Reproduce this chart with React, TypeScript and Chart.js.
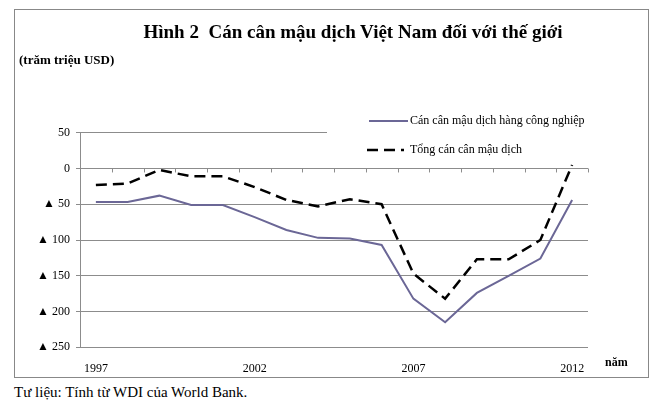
import { useEffect, useRef } from 'react'
import Chart from 'chart.js/auto'

const years = ['1997', '1998', '1999', '2000', '2001', '2002', '2003', '2004', '2005', '2006', '2007', '2008', '2009', '2010', '2011', '2012']
const industrialBalance = [-47, -47, -38, -51, -51, -68, -86, -97, -98, -107, -182, -215, -174, -150, -126, -44]
const totalBalance = [-23, -21, -2, -11, -11, -26, -44, -53, -43, -50, -147, -182, -127, -127, -100, 5]
const yTicks = [50, 0, -50, -100, -150, -200, -250]
const labelYears = ['1997', '2002', '2007', '2012']
const legendLabels = ['Cán cân mậu dịch hàng công nghiệp', 'Tổng cán cân mậu dịch']

const SERIF = '"Liberation Serif", "Times New Roman", serif'
const SOLID_COLOR = '#6b6796'
const GRID_COLOR = '#8c8c8c'

// small tick marks hanging below the zero line, at the category boundaries
const zeroTicks = {
  id: 'zeroTicks',
  beforeDatasetsDraw(chart: Chart) {
    const x = chart.scales.x
    const y = chart.scales.y
    const ctx = chart.ctx
    const half = (x.getPixelForValue(1) - x.getPixelForValue(0)) / 2
    const y0 = y.getPixelForValue(0)
    ctx.save()
    ctx.strokeStyle = GRID_COLOR
    ctx.lineWidth = 1
    ctx.beginPath()
    for (let i = 1; i <= years.length; i++) {
      const px = Math.round(x.getPixelForValue(i) - half) + 0.5
      ctx.moveTo(px, y0)
      ctx.lineTo(px, y0 + 4)
    }
    ctx.stroke()
    ctx.restore()
  }
}

// legend sitting on a white box over the top grid line
const boxLegend = {
  id: 'boxLegend',
  afterDraw(chart: Chart) {
    const ctx = chart.ctx
    const area = chart.chartArea
    ctx.save()
    ctx.fillStyle = '#ffffff'
    ctx.fillRect(313, 98, area.right + 3 - 313, 52)
    ctx.font = `12px ${SERIF}`
    ctx.fillStyle = '#000'
    ctx.textBaseline = 'middle'

    ctx.strokeStyle = SOLID_COLOR
    ctx.lineWidth = 2
    ctx.beginPath()
    ctx.moveTo(355, 112)
    ctx.lineTo(394, 112)
    ctx.stroke()
    ctx.fillText(legendLabels[0], 396, 112)

    ctx.strokeStyle = '#000'
    ctx.lineWidth = 2.5
    ctx.setLineDash([11, 6])
    ctx.beginPath()
    ctx.moveTo(353, 141)
    ctx.lineTo(390, 141)
    ctx.stroke()
    ctx.setLineDash([])
    ctx.fillText(legendLabels[1], 396, 141)
    ctx.restore()
  }
}

const TradeBalanceChart = () => {
  const chartRef = useRef<HTMLCanvasElement>(null)
  const chartInstance = useRef<Chart | null>(null)

  useEffect(() => {
    if (!chartRef.current) return
    if (chartInstance.current) {
      chartInstance.current.destroy()
    }

    Chart.defaults.font.family = SERIF
    Chart.defaults.color = '#000'

    chartInstance.current = new Chart(chartRef.current, {
      type: 'line',
      data: {
        labels: years,
        datasets: [
          {
            label: legendLabels[0],
            data: industrialBalance,
            borderColor: SOLID_COLOR,
            borderWidth: 2,
            pointRadius: 0,
            tension: 0,
            fill: false
          },
          {
            label: legendLabels[1],
            data: totalBalance,
            borderColor: '#000',
            borderWidth: 2.5,
            borderDash: [11, 6],
            pointRadius: 0,
            tension: 0,
            fill: false
          }
        ]
      },
      options: {
        animation: false,
        responsive: false,
        maintainAspectRatio: false,
        layout: {
          padding: { left: 0, right: 60, top: 123.7, bottom: 0 }
        },
        plugins: {
          legend: { display: false },
          tooltip: { enabled: false },
          title: { display: false }
        },
        scales: {
          x: {
            offset: true,
            grid: { display: false, drawTicks: false },
            border: { display: false },
            ticks: {
              autoSkip: false,
              maxRotation: 0,
              padding: 14,
              font: { size: 12 },
              callback: (_v, i) => (labelYears.includes(years[i]) ? years[i] : '')
            },
            afterFit: (scale) => {
              scale.width
              scale.height = 29.7
            }
          },
          y: {
            min: -250,
            max: 50,
            afterBuildTicks: (scale) => {
              scale.ticks = yTicks.map(v => ({ value: v }))
            },
            grid: { color: GRID_COLOR, tickLength: 4, lineWidth: 1 },
            border: { display: true, color: GRID_COLOR },
            ticks: {
              padding: 6,
              font: { size: 12, family: '"Liberation Serif", "DejaVu Sans", serif' },
              callback: (v) => (Number(v) < 0 ? `▲ ${-Number(v)}` : `${v}`)
            },
            afterFit: (scale) => {
              scale.width = 66
            }
          }
        }
      },
      plugins: [zeroTicks, boxLegend]
    })

    return () => {
      if (chartInstance.current) {
        chartInstance.current.destroy()
        chartInstance.current = null
      }
    }
  }, [])

  return (
    <div style={{ position: 'fixed', left: 0, top: 0, width: 663, height: 410, background: '#fff', fontFamily: SERIF }}>
      <div style={{ position: 'absolute', left: 14, top: 9, width: 633, height: 367, border: '1px solid #888' }} />
      <div style={{ position: 'absolute', left: 14, top: 9, width: 634, height: 368 }}>
        <canvas ref={chartRef} width={634} height={368} style={{ width: 634, height: 368 }}></canvas>
      </div>
      <div style={{ position: 'absolute', left: 56, width: 594, top: 21, textAlign: 'center', fontSize: 19, fontWeight: 'bold', whiteSpace: 'pre' }}>
        {'Hình 2  Cán cân mậu dịch Việt Nam đối với thế giới'}
      </div>
      <div style={{ position: 'absolute', left: 19, top: 52, fontSize: 13, fontWeight: 'bold' }}>(trăm triệu USD)</div>
      <div style={{ position: 'absolute', left: 605, top: 355, fontSize: 12, fontWeight: 'bold' }}>năm</div>
      <div style={{ position: 'absolute', left: 14, top: 384, fontSize: 15 }}>Tư liệu: Tính từ WDI của World Bank.</div>
    </div>
  )
}

export default function App() {
  return <TradeBalanceChart />
}
